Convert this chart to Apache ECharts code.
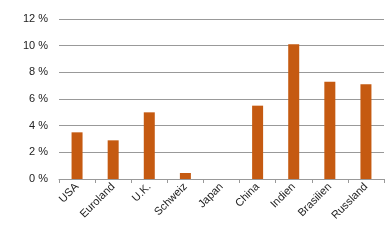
<!DOCTYPE html>
<html><head><meta charset="utf-8">
<script src="https://cdn.jsdelivr.net/npm/echarts@6/dist/echarts.min.js"></script>
<style>html,body{margin:0;padding:0;background:#fff}#c{width:392px;height:243px}</style>
</head><body><div id="c"></div>
<script>
const categories = ["USA","Euroland","U.K.","Schweiz","Japan","China","Indien","Brasilien","Russland"];
const values = [3.5, 2.9, 5.0, 0.45, 0, 5.5, 10.1, 7.3, 7.1];
const chart = echarts.init(document.getElementById('c'), null, {renderer:'canvas'});
chart.setOption({
  animation:false,
  grid:{left:59,right:8,top:19,bottom:64},
  xAxis:{type:'category',data:categories,
    axisLine:{lineStyle:{color:'#999',width:1}},
    axisTick:{show:true,length:4,lineStyle:{color:'#999'}},
    axisLabel:{rotate:45,color:'#222',fontFamily:'Liberation Sans, Arial',fontSize:11,margin:6,interval:0}},
  yAxis:{type:'value',min:0,max:12,interval:2,
    axisLine:{show:false},axisTick:{show:false},
    splitLine:{lineStyle:{color:'#999',width:1}},
    axisLabel:{formatter:v=>v+' %',color:'#222',fontFamily:'Liberation Sans, Arial',fontSize:11,margin:11}},
  series:[{type:'bar',data:values,barWidth:11,itemStyle:{color:'#C55A11'}}]
});
</script></body></html>
